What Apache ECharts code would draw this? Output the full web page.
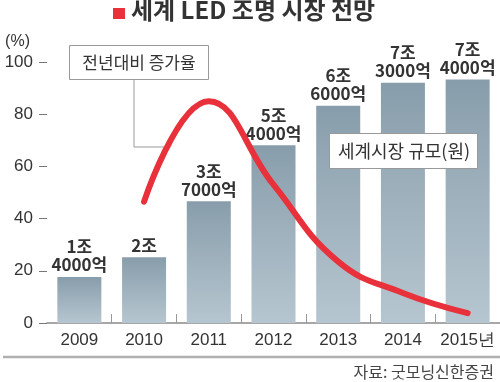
<!DOCTYPE html>
<html><head><meta charset="utf-8">
<script src="https://cdn.jsdelivr.net/npm/echarts@6/dist/echarts.min.js"></script>
<style>html,body{margin:0;padding:0;background:#fff}#c{width:500px;height:382px}</style>
</head><body><div id="c"></div>
<script>
var years = ['2009','2010','2011','2012','2013','2014','2015년'];
var marketSize = [14000, 20000, 37000, 54000, 66000, 73000, 74000]; // 억 원
var marketLabels = ['1조\n4000억','2조','3조\n7000억','5조\n4000억','6조\n6000억','7조\n3000억','7조\n4000억'];
var growthRate = [null, 46.5, 85, 53, 23.5, 11.5, 3.8]; // %
var yTicks = [0, 20, 40, 60, 80, 100];

var FONT = '"Noto Sans CJK KR", "Noto Sans", sans-serif';
var chart = echarts.init(document.getElementById('c'));
chart.setOption({
  animation: false,
  grid: {left: 47, right: 0, top: 62, bottom: 59},
  xAxis: {
    type: 'category', data: years, boundaryGap: true,
    axisLine: {lineStyle: {color: '#8a8a8a', width: 1.5}},
    axisTick: {show: true, inside: true, length: 9, lineStyle: {color: '#999'},
      interval: function (i) { return i > 0; }},
    axisLabel: {interval: 0, hideOverlap: false, color: '#333', fontSize: 17,
      fontFamily: 'Liberation Sans, Arial, sans-serif', margin: 9}
  },
  yAxis: [{
    type: 'value', min: yTicks[0], max: yTicks[yTicks.length - 1], interval: 20,
    name: '(%)', nameLocation: 'end', nameGap: 20,
    nameTextStyle: {align: 'right', verticalAlign: 'middle', color: '#333', fontSize: 16,
      fontFamily: 'Liberation Sans, Arial, sans-serif', padding: [0, 17, 0, 0]},
    splitLine: {show: false},
    axisLine: {show: false},
    axisTick: {show: true, length: 8, lineStyle: {color: '#777', width: 1}},
    axisLabel: {color: '#333', fontSize: 17, fontFamily: 'Liberation Sans, Arial, sans-serif', margin: 14}
  }, {
    type: 'value', min: 0, max: 79300, show: false
  }],
  series: [{
    type: 'bar', yAxisIndex: 1, data: marketSize, barWidth: 44,
    itemStyle: {color: new echarts.graphic.LinearGradient(0, 0, 0, 1, [
      {offset: 0, color: '#889dab'}, {offset: 1, color: '#b6c6d0'}])},
    label: {show: true, position: 'top', distance: 3,
      formatter: function (p) { return marketLabels[p.dataIndex]; },
      color: '#333', fontSize: 17, fontWeight: 'bold', lineHeight: 18, fontFamily: FONT}
  }, {
    type: 'line', yAxisIndex: 0, data: growthRate, smooth: 0.45, showSymbol: false,
    connectNulls: false,
    lineStyle: {color: '#e8313a', width: 6, cap: 'round', join: 'round'},
    z: 5
  }],
  graphic: [
    {type: 'rect', shape: {x: 113, y: 8, width: 12, height: 11}, style: {fill: '#e8313a'}},
    {type: 'text', left: 131, top: -2, style: {text: '세계 LED 조명 시장 전망', fill: '#333',
      font: 'bold 24px ' + FONT}},
    {type: 'polyline', shape: {points: [[134, 80], [134, 147], [165, 147]]},
      style: {stroke: '#999', lineWidth: 1, fill: null}, z: 3},
    {type: 'rect', shape: {x: 69.5, y: 45.5, width: 139, height: 34},
      style: {fill: '#fff', stroke: '#999', lineWidth: 1}, z: 4},
    {type: 'text', x: 139, y: 63, style: {text: '전년대비 증가율', fill: '#333', align: 'center',
      verticalAlign: 'middle', font: '17px ' + FONT}, z: 4},
    {type: 'rect', shape: {x: 329.5, y: 133.5, width: 148, height: 35},
      style: {fill: '#fff', stroke: '#999', lineWidth: 1}, z: 10},
    {type: 'text', x: 404, y: 151, style: {text: '세계시장 규모(원)', fill: '#333', align: 'center',
      verticalAlign: 'middle', font: '18px ' + FONT}, z: 10},
    {type: 'line', shape: {x1: 3, y1: 357, x2: 500, y2: 357}, style: {stroke: '#b0b0b0', lineWidth: 2.5}},
    {type: 'text', x: 494, y: 372, style: {text: '자료: 굿모닝신한증권', fill: '#444', align: 'right',
      verticalAlign: 'middle', font: '16px ' + FONT}}
  ]
});
</script></body></html>
